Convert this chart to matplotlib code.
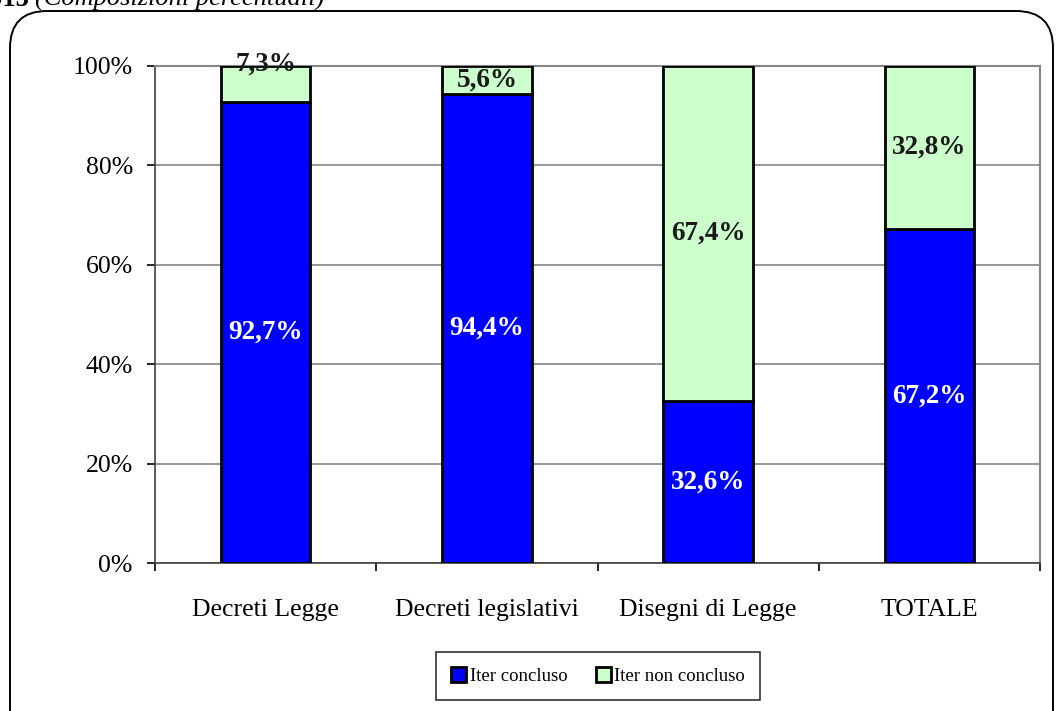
import matplotlib.pyplot as plt
from matplotlib.patches import FancyBboxPatch
import numpy as np

plt.rcParams['font.family'] = ['Liberation Serif', 'DejaVu Serif']

categories = ["Decreti Legge", "Decreti legislativi", "Disegni di Legge", "TOTALE"]
concluso = [92.7, 94.4, 32.6, 67.2]
non_concluso = [7.3, 5.6, 67.4, 32.8]
series_names = ["Iter concluso", "Iter non concluso"]
yticks = [0, 20, 40, 60, 80, 100]

blue = "#0000ff"
green = "#ccffcc"

fig = plt.figure(figsize=(10.61, 7.11), dpi=100)
W, H = 1061, 711

# outer rounded frame (bottom falls off the picture)
frame = FancyBboxPatch((10 / W, -0.05), (1053 - 10) / W, (711 - 11) / H + 0.05,
                       boxstyle="round,pad=0,rounding_size=0.035",
                       transform=fig.transFigure, fill=False,
                       edgecolor="black", linewidth=1.4, mutation_aspect=W / H)
fig.patches.append(frame)

# caption, cut off at the top as in the source page
fig.text(30 / W, 1 - 6 / H, "2013", fontsize=19, fontweight="bold",
         va="baseline", ha="right")
fig.text(35 / W, 1 - 6 / H, "(Composizioni percentuali)", fontsize=19,
         style="italic", va="baseline")

ax = fig.add_axes([155 / W, 1 - 563 / H, (1040 - 155) / W, (563 - 66) / H])
x = np.arange(len(categories))
bw = 0.405
ax.bar(x, concluso, bw, color=blue, edgecolor="black", linewidth=2,
       label=series_names[0], zorder=3)
ax.bar(x, non_concluso, bw, bottom=concluso, color=green, edgecolor="black",
       linewidth=2, label=series_names[1], zorder=3)

for i in range(len(categories)):
    ax.text(x[i], concluso[i] / 2, f"{concluso[i]:.1f}%".replace(".", ","),
            ha="center", va="center", color="white", fontsize=19.5,
            fontweight="bold", zorder=4)
    yy = concluso[i] + non_concluso[i] / 2
    if 7.0 <= non_concluso[i] < 10:
        yy = 100.4
    ax.text(x[i], yy, f"{non_concluso[i]:.1f}%".replace(".", ","),
            ha="center", va="center", color="#1a1a1a", fontsize=19.5,
            fontweight="bold", zorder=4)

ax.set_xlim(-0.5, len(categories) - 0.5)
ax.set_ylim(0, 100)
ax.set_yticks(yticks)
ax.set_yticklabels([f"{v}%" for v in yticks], fontsize=18.5)
ax.set_xticks(x)
ax.set_xticklabels(categories, fontsize=18.5)
ax.tick_params(axis="x", length=0, pad=26)
ax.set_xticks(np.arange(len(categories) + 1) - 0.5, minor=True)
ax.tick_params(axis="x", which="minor", length=6, width=1.2, direction="out")
ax.tick_params(axis="y", length=6, width=1.2, direction="out", pad=10)
ax.yaxis.grid(True, color="#868686", linewidth=1.2, zorder=0)
for s in ["top", "right"]:
    ax.spines[s].set_color("#868686")
    ax.spines[s].set_linewidth(1.5)
ax.spines["left"].set_color("#404040")
ax.spines["bottom"].set_color("#404040")
ax.spines["left"].set_linewidth(1.2)
ax.spines["bottom"].set_linewidth(1.2)

leg = fig.legend(loc="center", bbox_to_anchor=(598 / W, 1 - 676 / H), ncol=2,
                 fontsize=13.5, frameon=True, fancybox=False, shadow=False,
                 handlelength=0.8, handleheight=0.8, handletextpad=0.2,
                 columnspacing=1.5, borderpad=0.8, borderaxespad=0)
leg.get_frame().set_edgecolor("black")
leg.get_frame().set_linewidth(1.2)

fig.savefig("out.png", dpi=100)
